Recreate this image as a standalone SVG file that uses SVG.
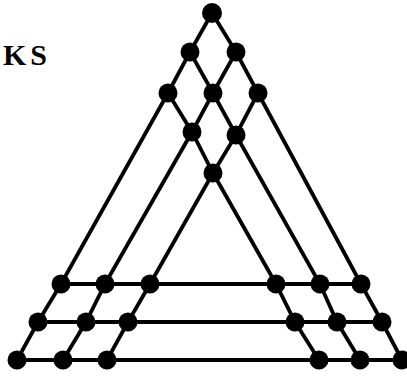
<svg xmlns="http://www.w3.org/2000/svg" width="407" height="376" viewBox="0 0 407 376">
<style>
.e{stroke:#000;stroke-width:3.8;fill:none;stroke-linecap:round}
.n{fill:#000}
.t{font-family:"Liberation Serif",serif;font-weight:bold;font-size:30px;fill:#000}
</style>
<rect width="407" height="376" fill="#fff"/>
<text class="t" x="3" y="65" letter-spacing="4">KS</text>
<g id="connectors">
<polyline class="e" points="212,13 190,52 168,93 61,284 38,322 17,360"/>
<polyline class="e" points="236,52 213,93 192,132 105,284 86,322 63,360"/>
<polyline class="e" points="258,93 236,135 213,173 150,284 128,322 107,360"/>
<polyline class="e" points="212,13 236,52 258,93 361,284 382,322 402,360"/>
<polyline class="e" points="190,52 213,93 236,135 320,284 337,322 360,360"/>
<polyline class="e" points="168,93 192,132 213,173 276,284 295,322 319,360"/>
<line class="e" x1="61" y1="284" x2="361" y2="284"/>
<line class="e" x1="38" y1="322" x2="382" y2="322"/>
<line class="e" x1="17" y1="360" x2="402" y2="360"/>
</g>
<g id="n1"><circle class="n" cx="212" cy="13" r="10"/></g>
<g id="n2"><circle class="n" cx="190" cy="52" r="9.5"/></g>
<g id="n3"><circle class="n" cx="236" cy="52" r="9.5"/></g>
<g id="n4"><circle class="n" cx="168" cy="93" r="9.5"/></g>
<g id="n5"><circle class="n" cx="213" cy="93" r="9.5"/></g>
<g id="n6"><circle class="n" cx="258" cy="93" r="9.5"/></g>
<g id="n7"><circle class="n" cx="192" cy="132" r="9.5"/></g>
<g id="n8"><circle class="n" cx="236" cy="135" r="9.5"/></g>
<g id="n9"><circle class="n" cx="213" cy="173" r="9.5"/></g>
<g id="n10"><circle class="n" cx="61" cy="284" r="9.5"/></g>
<g id="n11"><circle class="n" cx="105" cy="284" r="9.5"/></g>
<g id="n12"><circle class="n" cx="150" cy="284" r="9.5"/></g>
<g id="n13"><circle class="n" cx="38" cy="322" r="9.5"/></g>
<g id="n14"><circle class="n" cx="86" cy="322" r="9.5"/></g>
<g id="n15"><circle class="n" cx="128" cy="322" r="9.5"/></g>
<g id="n16"><circle class="n" cx="17" cy="360" r="9.5"/></g>
<g id="n17"><circle class="n" cx="63" cy="360" r="9.5"/></g>
<g id="n18"><circle class="n" cx="107" cy="360" r="9.5"/></g>
<g id="n19"><circle class="n" cx="276" cy="284" r="9.5"/></g>
<g id="n20"><circle class="n" cx="320" cy="284" r="9.5"/></g>
<g id="n21"><circle class="n" cx="361" cy="284" r="9.5"/></g>
<g id="n22"><circle class="n" cx="295" cy="322" r="9.5"/></g>
<g id="n23"><circle class="n" cx="337" cy="322" r="9.5"/></g>
<g id="n24"><circle class="n" cx="382" cy="322" r="9.5"/></g>
<g id="n25"><circle class="n" cx="319" cy="360" r="9.5"/></g>
<g id="n26"><circle class="n" cx="360" cy="360" r="9.5"/></g>
<g id="n27"><circle class="n" cx="402" cy="360" r="9.5"/></g>
</svg>
